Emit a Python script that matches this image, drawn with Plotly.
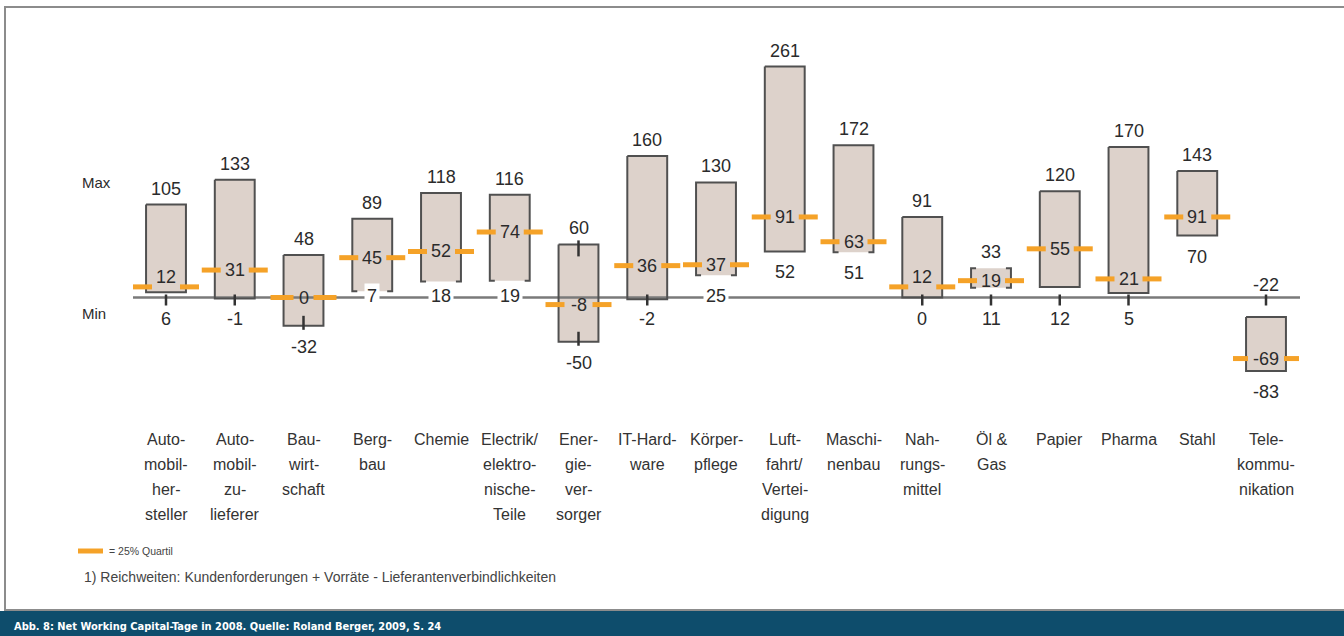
import plotly.graph_objects as go

# ---------------- data ----------------
categories = [
    "Auto-\nmobil-\nher-\nsteller",
    "Auto-\nmobil-\nzu-\nlieferer",
    "Bau-\nwirt-\nschaft",
    "Berg-\nbau",
    "Chemie",
    "Electrik/\nelektro-\nnische-\nTeile",
    "Ener-\ngie-\nver-\nsorger",
    "IT-Hard-\nware",
    "Körper-\npflege",
    "Luft-\nfahrt/\nVertei-\ndigung",
    "Maschi-\nnenbau",
    "Nah-\nrungs-\nmittel",
    "Öl &\nGas",
    "Papier",
    "Pharma",
    "Stahl",
    "Tele-\nkommu-\nnikation",
]
max_days = [105, 133, 48, 89, 118, 116, 60, 160, 130, 261, 172, 91, 33, 120, 170, 143, -22]
min_days = [6, -1, -32, 7, 18, 19, -50, -2, 25, 52, 51, 0, 11, 12, 5, 70, -83]
q25_days = [12, 31, 0, 45, 52, 74, -8, 36, 37, 91, 63, 12, 19, 55, 21, 91, -69]

caption = "Abb. 8: Net Working Capital-Tage in 2008. Quelle: Roland Berger, 2009, S. 24"
footnote = "1) Reichweiten: Kundenforderungen + Vorräte - Lieferantenverbindlichkeiten"
legend_text = "= 25% Quartil"

# ---------------- styles (layout only) ----------------
min_label_pos = ["axis_below", "axis_below", "bar_below", "axis_on", "axis_on", "axis_on",
                 "bar_below", "axis_below", "axis_on", "bar_below", "bar_below", "axis_below",
                 "axis_below", "axis_below", "axis_below", "bar_below", "bar_below"]
max_label_pos = ["bar_above"] * 16 + ["axis_above"]
outline_style = ["box", "box", "box", "bracket", "bracket", "bracket", "box", "box", "bracket",
                 "box", "bracket", "box", "bracket2", "box", "box", "box", "box"]
q_label_lift = [10, 0, 0, 0, 0, 0, 0, 0, 0, 0, 0, 10, 0, 0, 0, 0, 0]
axis_ticks = [0, 1, 7, 11, 12, 13, 14, 16]
bottom_ticks = [2, 6]
top_ticks = [6]

W, H = 1344, 636
XPX = 68.75      # pixels per category
X0PX = 166       # pixel of first category
YPX = 0.885      # pixels per day
Y0PX = 297.5     # pixel of zero line

ORANGE = "#F5A228"
BAR_FILL = "#DDD2CB"
OUTLINE = "#505050"
TXT = "#2b2b2b"
FONT = "Liberation Sans, Arial, Helvetica, sans-serif"


def dx(p):
    return p / XPX


def dy(p):
    return p / YPX


def paper_x(p):
    return p / W


def paper_y(p):
    return 1 - p / H


n = len(categories)
xs = list(range(n))
BAR_W = 0.58
half = BAR_W / 2
hook = dx(5)

fig = go.Figure()

# zero line
fig.add_trace(go.Scatter(x=[dx(133 - X0PX), dx(1300 - X0PX)], y=[0, 0], mode="lines",
                         line=dict(color="#7a7a7a", width=2.5), hoverinfo="skip", showlegend=False))

# floating bars min..max
fig.add_trace(go.Bar(x=xs, y=[mx - mn for mx, mn in zip(max_days, min_days)], base=min_days,
                     width=BAR_W, marker=dict(color=BAR_FILL, line=dict(width=0)),
                     hoverinfo="skip", showlegend=False))

# outlines
ox, oy = [], []
for i in xs:
    l, r, t, b = i - half, i + half, max_days[i], min_days[i]
    st = outline_style[i]
    if st == "box":
        ox += [l, r, r, l, l, None]
        oy += [t, t, b, b, t, None]
    elif st == "bracket":
        ox += [l + hook, l, l, r, r, r - hook, None]
        oy += [b, b, t, t, b, b, None]
    else:
        ox += [l + hook, l, l, l + hook, None, r - hook, r, r, r - hook, None]
        oy += [t, t, b, b, None, t, t, b, b, None]
fig.add_trace(go.Scatter(x=ox, y=oy, mode="lines", line=dict(color=OUTLINE, width=2),
                         hoverinfo="skip", showlegend=False))

# small ticks
tx, ty = [], []
for i in axis_ticks:
    tx += [i, i, None]
    ty += [dy(3), -dy(8), None]
for i in bottom_ticks:
    tx += [i, i, None]
    ty += [min_days[i] + dy(10), min_days[i] - dy(4), None]
for i in top_ticks:
    tx += [i, i, None]
    ty += [max_days[i] + dy(4), max_days[i] - dy(12), None]
fig.add_trace(go.Scatter(x=tx, y=ty, mode="lines", line=dict(color="#333333", width=2.5),
                         hoverinfo="skip", showlegend=False))

# quartile dashes
qx, qy = [], []
for i in xs:
    q = q25_days[i]
    inner = 6 + 4 * len(str(q))
    qx += [i - dx(33), i - dx(inner), None, i + dx(inner), i + dx(33), None]
    qy += [q, q, None, q, q, None]
fig.add_trace(go.Scatter(x=qx, y=qy, mode="lines", line=dict(color=ORANGE, width=5),
                         hoverinfo="skip", showlegend=False))

ann = []
vfont = dict(family=FONT, size=18, color=TXT)
for i in xs:
    # max label
    if max_label_pos[i] == "bar_above":
        ann.append(dict(x=i, y=max_days[i], yshift=16, text=str(max_days[i])))
    else:
        ann.append(dict(x=i, y=0, yshift=13, text=str(max_days[i])))
    # min label
    p = min_label_pos[i]
    if p == "axis_below":
        ann.append(dict(x=i, y=0, yshift=-21, text=str(min_days[i])))
    elif p == "axis_on":
        ann.append(dict(x=i, y=0, yshift=2, text=str(min_days[i]), bgcolor="white", borderpad=2))
    else:
        ann.append(dict(x=i, y=min_days[i], yshift=-21, text=str(min_days[i])))
    # quartile label
    ann.append(dict(x=i, y=q25_days[i], yshift=q_label_lift[i], text=str(q25_days[i])))

for a in ann:
    a.update(xref="x", yref="y", showarrow=False, xanchor="center", yanchor="middle", font=vfont)

# category labels
cfont = dict(family=FONT, size=16, color="#333333")
for i, cat in enumerate(categories):
    for k, line in enumerate(cat.split("\n")):
        ann.append(dict(x=i, xref="x", y=paper_y(439 + 25.3 * k), yref="paper", text=line,
                        showarrow=False, xanchor="center", yanchor="middle", font=cfont))

# Max / Min labels
for txt, py in [("Max", 182), ("Min", 313)]:
    ann.append(dict(x=paper_x(80), xref="paper", y=paper_y(py), yref="paper", text=txt,
                    showarrow=False, xanchor="left", yanchor="middle",
                    font=dict(family=FONT, size=15, color=TXT)))

# legend + footnote
ann.append(dict(x=paper_x(107), xref="paper", y=paper_y(551), yref="paper", text=legend_text,
                showarrow=False, xanchor="left", yanchor="middle",
                font=dict(family=FONT, size=10.5, color="#444444")))
ann.append(dict(x=paper_x(82), xref="paper", y=paper_y(577), yref="paper", text=footnote,
                showarrow=False, xanchor="left", yanchor="middle",
                font=dict(family=FONT, size=14, color="#444444")))
# caption banner text
ann.append(dict(x=paper_x(12), xref="paper", y=paper_y(626), yref="paper", text="<b>" + caption + "</b>",
                showarrow=False, xanchor="left", yanchor="middle",
                font=dict(family="Liberation Sans Narrow, DejaVu Sans Condensed, Arial Narrow, sans-serif",
                          size=11, color="white")))

shapes = [
    dict(type="rect", xref="paper", yref="paper", x0=paper_x(5), x1=paper_x(1360),
         y0=paper_y(610), y1=paper_y(7), line=dict(color="#8c8c8c", width=2),
         fillcolor="rgba(0,0,0,0)", layer="below"),
    dict(type="rect", xref="paper", yref="paper", x0=-0.01, x1=1.01, y0=-0.01, y1=paper_y(611),
         line=dict(width=0), fillcolor="#0E4D6C", layer="above"),
    dict(type="line", xref="paper", yref="paper", x0=paper_x(78), x1=paper_x(103),
         y0=paper_y(551), y1=paper_y(551), line=dict(color=ORANGE, width=5)),
]

fig.update_layout(
    width=W, height=H,
    margin=dict(l=0, r=0, t=0, b=0),
    paper_bgcolor="white", plot_bgcolor="white",
    showlegend=False,
    xaxis=dict(visible=False, range=[dx(-X0PX), dx(W - X0PX)], fixedrange=True),
    yaxis=dict(visible=False, range=[-dy(H - Y0PX), dy(Y0PX)], fixedrange=True),
    annotations=ann,
    shapes=shapes,
)

fig.write_html("out.html")
